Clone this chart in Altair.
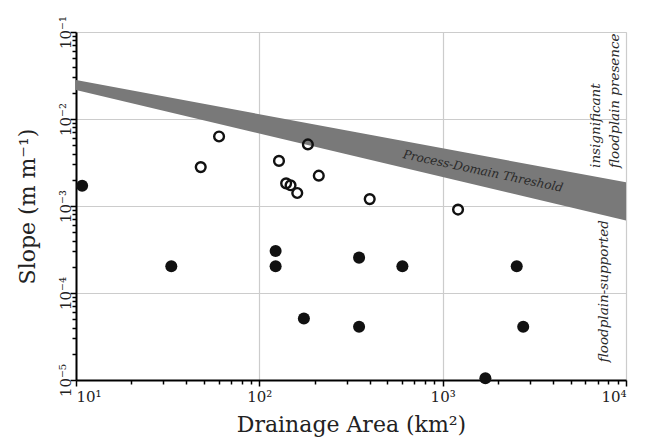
import altair as alt
import pandas as pd

# ---- data ----
open_area = [60.3, 47.9, 128, 184, 211, 140, 148, 161, 400, 1213]
open_slope = [6.3e-3, 2.8e-3, 3.3e-3, 5.1e-3, 2.23e-3, 1.82e-3, 1.73e-3, 1.41e-3, 1.2e-3, 9.1e-4]

filled_area = [10.8, 33.1, 122.7, 122.7, 175, 350, 603, 2535, 350, 2750, 1710]
filled_slope = [1.71e-3, 2.03e-4, 3.04e-4, 2.03e-4, 5.1e-5, 2.55e-4, 2.03e-4, 2.03e-4, 4.1e-5, 4.1e-5, 1.05e-5]

band_area = [10, 10000]
band_upper = [0.028, 1.87e-3]
band_lower = [0.0215, 6.8e-4]

x_tick_values = [10, 20, 30, 40, 50, 60, 70, 80, 90,
                 100, 200, 300, 400, 500, 600, 700, 800, 900,
                 1000, 2000, 3000, 4000, 5000, 6000, 7000, 8000, 9000, 10000]
x_major = [10, 100, 1000, 10000]
x_labels = ["10¹", "10²", "10³", "10⁴"]

y_tick_values = [1e-5, 2e-5, 3e-5, 4e-5, 5e-5, 6e-5, 7e-5, 8e-5, 9e-5,
                 1e-4, 2e-4, 3e-4, 4e-4, 5e-4, 6e-4, 7e-4, 8e-4, 9e-4,
                 1e-3, 2e-3, 3e-3, 4e-3, 5e-3, 6e-3, 7e-3, 8e-3, 9e-3,
                 1e-2, 2e-2, 3e-2, 4e-2, 5e-2, 6e-2, 7e-2, 8e-2, 9e-2, 1e-1]
y_major = [1e-5, 1e-4, 1e-3, 1e-2, 1e-1]
y_labels = ["10⁻⁵", "10⁻⁴", "10⁻³", "10⁻²", "10⁻¹"]

threshold_text = ["Process-Domain Threshold"]
threshold_x = [1660]
threshold_y = [2.52e-3]

side_texts = ["insignificant", "floodplain presence", "floodplain-supported"]
side_x = [6870, 8710, 7590]
side_y = [2.74e-3, 2.74e-3, 1.05e-4]

FONT = "DejaVu Serif"

# ---- helpers ----
MAJOR = "abs(log(datum.value)/LN10 - round(log(datum.value)/LN10)) < 0.001"


def label_expr(vals, labs):
    parts = " : ".join(f"datum.value == {v} ? '{l}'" for v, l in zip(vals, labs))
    return parts + " : ''"


xscale = alt.Scale(type="log", domain=[10, 10000], nice=False)
yscale = alt.Scale(type="log", domain=[1e-5, 1e-1], nice=False)

x_axis = alt.Axis(
    values=x_tick_values, labelExpr=label_expr(x_major, x_labels),
    title="Drainage Area (km²)", titleFontSize=22, titleFontWeight="normal",
    titleColor="#222", titlePadding=10, titleFont=FONT, labelFont=FONT,
    labelFontSize=15, labelColor="#222", labelOverlap=False, labelPadding=3,
    tickSize={"condition": {"test": MAJOR, "value": 6}, "value": 4},
    tickColor="black", tickWidth=1.5,
    domainColor="black", domainWidth=2,
    grid=True, gridColor="#cccccc", gridWidth=1.2,
    gridOpacity={"condition": {"test": MAJOR, "value": 1}, "value": 0},
)
y_axis = alt.Axis(
    values=y_tick_values, labelExpr=label_expr(y_major, y_labels),
    title="Slope (m m⁻¹)", titleFontSize=22, titleFontWeight="normal",
    titleColor="#222", titlePadding=19, titleFont=FONT, labelFont=FONT,
    labelFontSize=15, labelColor="#222", labelOverlap=False,
    labelAngle=270, labelAlign="center", labelBaseline="bottom", labelPadding=-3,
    tickSize={"condition": {"test": MAJOR, "value": 6}, "value": 4},
    tickColor="black", tickWidth=1.5,
    domainColor="black", domainWidth=2,
    grid=True, gridColor="#cccccc", gridWidth=1.2,
    gridOpacity={"condition": {"test": MAJOR, "value": 1}, "value": 0},
)

band_df = pd.DataFrame({"area": band_area, "upper": band_upper, "lower": band_lower})
open_df = pd.DataFrame({"area": open_area, "slope": open_slope})
filled_df = pd.DataFrame({"area": filled_area, "slope": filled_slope})
thr_df = pd.DataFrame({"area": threshold_x, "slope": threshold_y, "t": threshold_text})
side_df = pd.DataFrame({"area": side_x, "slope": side_y, "t": side_texts})

band = alt.Chart(band_df).mark_area(color="#797979", opacity=1).encode(
    x=alt.X("area:Q", scale=xscale, axis=x_axis),
    y=alt.Y("upper:Q", scale=yscale, axis=y_axis),
    y2="lower:Q",
)

thr = alt.Chart(thr_df).mark_text(
    font=FONT, fontSize=12, fontStyle="italic", color="#2a2a2a", angle=12,
    align="center", baseline="middle",
).encode(x=alt.X("area:Q", scale=xscale), y=alt.Y("slope:Q", scale=yscale), text="t:N")

side_lr = alt.Chart(side_df.iloc[:2]).mark_text(
    font=FONT, fontSize=13.5, fontStyle="italic", color="#2a2a2a", angle=270,
    align="left", baseline="middle",
).encode(x=alt.X("area:Q", scale=xscale), y=alt.Y("slope:Q", scale=yscale), text="t:N")

side_c = alt.Chart(side_df.iloc[2:]).mark_text(
    font=FONT, fontSize=13.5, fontStyle="italic", color="#2a2a2a", angle=270,
    align="center", baseline="middle",
).encode(x=alt.X("area:Q", scale=xscale), y=alt.Y("slope:Q", scale=yscale), text="t:N")

opens = alt.Chart(open_df).mark_point(
    shape="circle", filled=False, color="#111", size=95, strokeWidth=2.4, opacity=1,
).encode(x=alt.X("area:Q", scale=xscale), y=alt.Y("slope:Q", scale=yscale))

filled = alt.Chart(filled_df).mark_point(
    shape="circle", filled=True, color="#111", size=145, opacity=1,
).encode(x=alt.X("area:Q", scale=xscale), y=alt.Y("slope:Q", scale=yscale))

chart = alt.layer(band, thr, side_lr, side_c, opens, filled).properties(
    width=550, height=348, padding={"left": 8, "top": 7, "right": 5, "bottom": 2},
).configure_view(stroke="black", strokeWidth=2).configure(background="white")

chart.save("out.html", embed_options={"renderer": "svg", "actions": False})
